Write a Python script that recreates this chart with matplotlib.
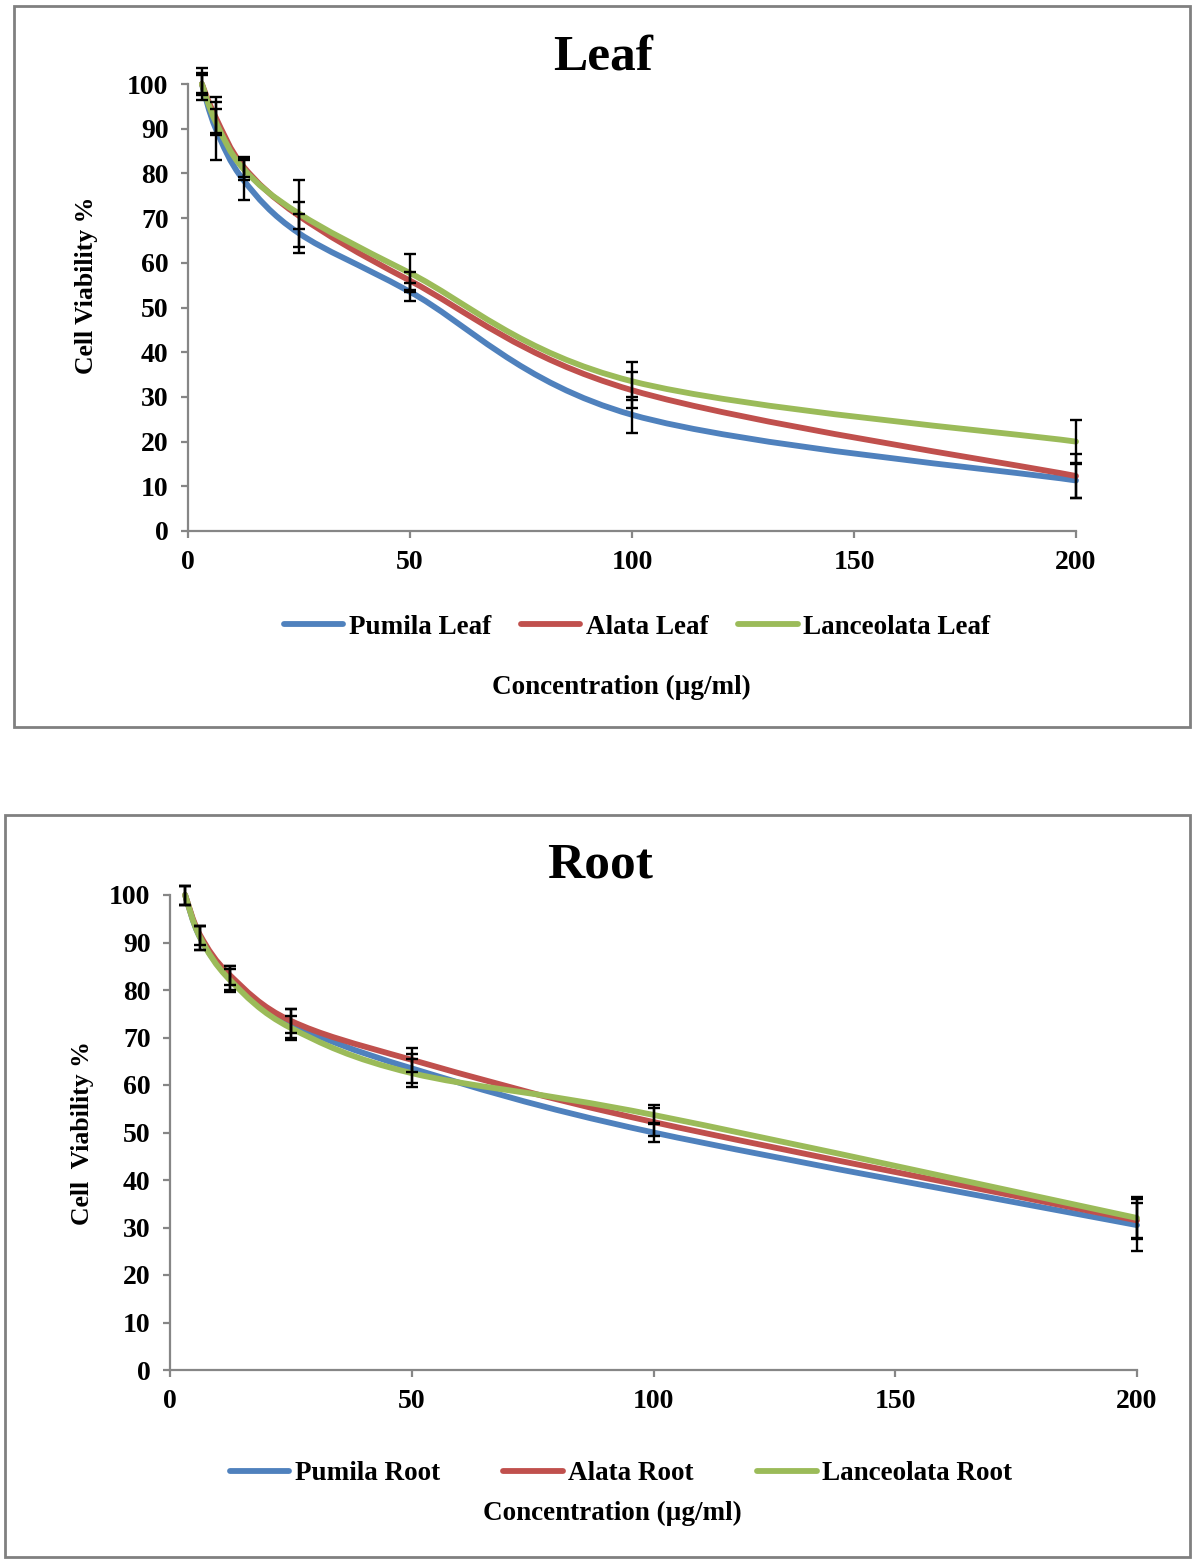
import matplotlib
matplotlib.use('Agg')
import matplotlib.pyplot as plt
from matplotlib.path import Path
from matplotlib.patches import PathPatch, Rectangle
from matplotlib.lines import Line2D
import numpy as np

plt.rcParams['font.family'] = ['Liberation Serif', 'DejaVu Serif']
plt.rcParams['font.weight'] = 'bold'

# concentrations (ug/ml)
conc = [3.125, 6.25, 12.5, 25, 50, 100, 200]

# Leaf extracts: cell viability % and error
leaf_pumila = [100, 90, 78.5, 66.6, 53.5, 26, 11.3]
leaf_pumila_err = [2, 7, 4.5, 4.4, 2, 4, 4]
leaf_alata = [100, 92.5, 81.5, 70.5, 56, 31.5, 12.3]
leaf_alata_err = [2.5, 3.5, 2.2, 3, 2, 4, 5]
leaf_lanceolata = [100, 91.5, 81, 71, 57.7, 33.5, 20]
leaf_lanceolata_err = [3.5, 3, 2.5, 7.5, 4.3, 4.3, 4.9]

# Root extracts
root_pumila = [100, 91, 82.5, 73, 63.5, 50, 30.5]
root_pumila_err = [2, 2.5, 2.5, 3, 3, 2, 5.5]
root_alata = [100, 91.5, 83, 73.5, 65.3, 52.2, 31.5]
root_alata_err = [2, 2, 2, 2.5, 2.5, 3, 3.7]
root_lanceolata = [100, 91, 82, 72, 62.5, 53.7, 32]
root_lanceolata_err = [2, 2.5, 2.5, 2.5, 3, 2, 4.5]

colors = ['#4F81BD', '#C0504D', '#9BBB59']
gray = '#868686'
LW = 4.2


def smooth_path(x, y):
    # Excel style smoothed line: catmull-rom bezier through the points
    pts = np.column_stack([x, y]).astype(float)
    n = len(pts)
    verts = [pts[0]]
    codes = [Path.MOVETO]
    for i in range(n - 1):
        p0 = pts[max(i - 1, 0)]
        p1 = pts[i]
        p2 = pts[i + 1]
        p3 = pts[min(i + 2, n - 1)]
        verts += [p1 + (p2 - p0) / 6, p2 - (p3 - p1) / 6, p2]
        codes += [Path.CURVE4] * 3
    return Path(verts, codes)


def draw_panel(ax, series, errs):
    for vals, err in zip(series, errs):
        eb = ax.errorbar(conc, vals, yerr=err, fmt='none', ecolor='black',
                         elinewidth=1.7, capsize=4.5, capthick=1.7, zorder=4)
        for art in eb.lines[1] + eb.lines[2]:
            art.set_clip_on(False)
    for vals, c in zip(series, colors):
        ax.add_patch(PathPatch(smooth_path(conc, vals), fill=False, edgecolor=c,
                               lw=LW, capstyle='round', joinstyle='round',
                               zorder=3, clip_on=False))
    ax.set_xlim(0, 200)
    ax.set_ylim(0, 100)
    ax.set_xticks([0, 50, 100, 150, 200])
    ax.set_yticks(range(0, 101, 10))
    for s in ['top', 'right']:
        ax.spines[s].set_visible(False)
    for s in ['left', 'bottom']:
        ax.spines[s].set_color(gray)
        ax.spines[s].set_linewidth(1.6)
    ax.tick_params(axis='both', colors=gray, labelcolor='black', length=5,
                   width=1.6, labelsize=20, pad=9)


fig = plt.figure(figsize=(12, 15.63), dpi=100)

# panel frames
fig.add_artist(Rectangle((14 / 1200, 1 - 727 / 1563), 1176 / 1200, 721 / 1563,
                         transform=fig.transFigure, fill=False, ec='#808080', lw=2))
fig.add_artist(Rectangle((5 / 1200, 1 - 1557 / 1563), 1185 / 1200, 742 / 1563,
                         transform=fig.transFigure, fill=False, ec='#808080', lw=2))

ax1 = fig.add_axes([188 / 1200, 1 - 531 / 1563, 888 / 1200, 447 / 1563])
draw_panel(ax1, [leaf_pumila, leaf_alata, leaf_lanceolata],
           [leaf_pumila_err, leaf_alata_err, leaf_lanceolata_err])

ax2 = fig.add_axes([170 / 1200, 1 - 1370 / 1563, 967 / 1200, 475 / 1563])
draw_panel(ax2, [root_pumila, root_alata, root_lanceolata],
           [root_pumila_err, root_alata_err, root_lanceolata_err])

fig.text(0.5025, 1 - 57 / 1563, 'Leaf', ha='center', va='center', fontsize=37)
fig.text(0.5, 1 - 866 / 1563, 'Root', ha='center', va='center', fontsize=37)

fig.text(86 / 1200, 1 - 285 / 1563, 'Cell Viability %', rotation=90,
         ha='center', va='center', fontsize=18.5)
fig.text(82 / 1200, 1 - 1133 / 1563, 'Cell  Viability %', rotation=90,
         ha='center', va='center', fontsize=18.5)

fig.text(621 / 1200, 1 - 687 / 1563, 'Concentration (µg/ml)',
         ha='center', va='center', fontsize=19.5)
fig.text(612 / 1200, 1 - 1513 / 1563, 'Concentration (µg/ml)',
         ha='center', va='center', fontsize=19.5)

handles = [Line2D([], [], color=c, lw=LW, solid_capstyle='round') for c in colors]
fig.legend(handles, ['Pumila Leaf', 'Alata Leaf', 'Lanceolata Leaf'],
           loc='center', bbox_to_anchor=(637 / 1200, 1 - 627 / 1563), ncol=3,
           frameon=False, fontsize=19.5, handlelength=2.2, handletextpad=0.2,
           columnspacing=1.1)
fig.legend(handles, ['Pumila Root', 'Alata Root', 'Lanceolata Root'],
           loc='center', bbox_to_anchor=(621 / 1200, 1 - 1474 / 1563), ncol=3,
           frameon=False, fontsize=19.5, handlelength=2.2, handletextpad=0.2,
           columnspacing=2.35)

fig.savefig('out.png', dpi=100)
